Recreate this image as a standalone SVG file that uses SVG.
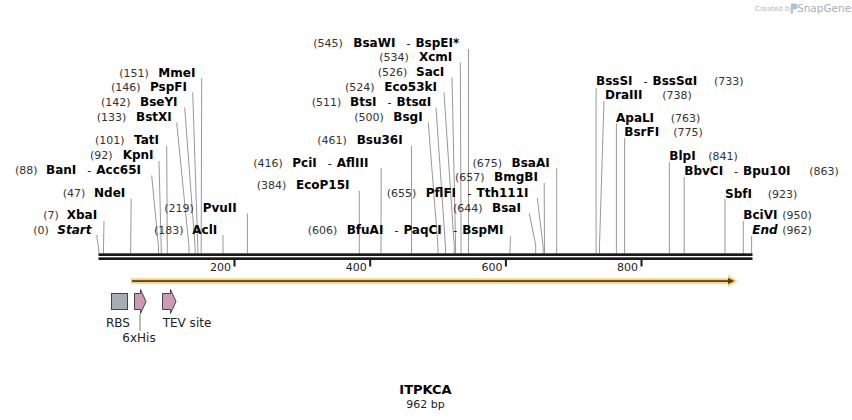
<svg xmlns="http://www.w3.org/2000/svg" width="852" height="420" viewBox="0 0 852 420">
<style>
.n{font-family:"DejaVu Sans",Verdana,sans-serif;font-size:11px;fill:#333}
.e{font-family:"DejaVu Sans",Verdana,sans-serif;font-size:12px;font-weight:bold;fill:#000}
.i{font-style:italic}
.h{font-family:"DejaVu Sans",Verdana,sans-serif;font-size:11px;fill:#000}
.c polyline{fill:none;stroke:#999;stroke-width:1}
.f{font-family:"DejaVu Sans",Verdana,sans-serif;font-size:12px;fill:#222}
.t{font-family:"DejaVu Sans",Verdana,sans-serif;font-size:11px;fill:#222;text-anchor:end}
.feat{stroke:#444;stroke-width:1}
</style>
<rect width="852" height="420" fill="#fff"/>
<g id="logo">
<text x="755" y="10.5" style="font-family:'DejaVu Sans',sans-serif;font-size:7px;fill:#b8b8b8">Created by</text>
<path d="M791 3.5h3.5a3 3 0 0 1 0 6h-1.5v4h-2z" fill="#a9c3dc"/>
<text x="797" y="12" style="font-family:'DejaVu Sans',sans-serif;font-size:10.5px;fill:#a7aeb6">SnapGene</text>
</g>
<g id="connectors" class="c">
<polyline points="201.7,78 201.2,247 201.2,253.5"/>
<polyline points="192.7,92.5 197.8,247 197.8,253.5"/>
<polyline points="184.7,107.5 195.1,247 195.1,253.5"/>
<polyline points="176.7,122.5 189,247 189,253.5"/>
<polyline points="166.7,146 167.3,247 167.3,253.5"/>
<polyline points="159,161 161.2,247 161.2,253.5"/>
<polyline points="151.7,175.5 158.5,247 158.5,253.5"/>
<polyline points="131.2,198.5 130.7,247 130.7,253.5"/>
<polyline points="247.4,213.3 247.4,253.5"/>
<polyline points="104,221 103.5,247 103.5,253.5"/>
<polyline points="96.7,235 98.8,250 98.8,253.5"/>
<polyline points="223,235 223,253.5"/>
<polyline points="468.5,49 468.5,253.5"/>
<polyline points="460.3,62.5 461.1,247 461.1,253.5"/>
<polyline points="452,77.5 455.6,247 455.6,253.5"/>
<polyline points="444,92.5 454.3,247 454.3,253.5"/>
<polyline points="436,107.5 445.5,247 445.5,253.5"/>
<polyline points="428.3,122.5 438,247 438,253.5"/>
<polyline points="411.5,146 411.5,253.5"/>
<polyline points="381.2,168 381,253.5"/>
<polyline points="359.3,191 359.3,253.5"/>
<polyline points="510.5,236.5 509.9,253.5"/>
<polyline points="537.3,198 543.2,247 543.2,253.5"/>
<polyline points="544.2,183 544.5,247 544.5,253.5"/>
<polyline points="556.7,168.3 556.7,253.5"/>
<polyline points="529.3,213.3 535.7,245 535.7,253.5"/>
<polyline points="596.1,87.7 596.1,253.5"/>
<polyline points="604,101 599.5,245 599.5,253.5"/>
<polyline points="616.4,123.3 616.4,253.5"/>
<polyline points="624.6,138 624.6,253.5"/>
<polyline points="669.3,162 669.3,253.5"/>
<polyline points="684.2,177 684.2,253.5"/>
<polyline points="725,199 725,253.5"/>
<polyline points="743.3,221 743.3,253.5"/>
<polyline points="751.6,236 751.6,253.5"/>
</g>
<g id="axis">
<rect x="98.5" y="253.3" width="654" height="2.7" fill="#1a1a1a"/>
<rect x="98.5" y="257.3" width="654" height="2.7" fill="#1a1a1a"/>
<rect x="233.5" y="260" width="2" height="6.5" fill="#1a1a1a"/>
<rect x="369.2" y="260" width="2" height="6.5" fill="#1a1a1a"/>
<rect x="504.9" y="260" width="2" height="6.5" fill="#1a1a1a"/>
<rect x="640.5" y="260" width="2" height="6.5" fill="#1a1a1a"/>
<text class="t" x="231" y="271">200</text>
<text class="t" x="366.7" y="271">400</text>
<text class="t" x="502.4" y="271">600</text>
<text class="t" x="638" y="271">800</text>
</g>
<g id="orf">
<polygon points="131,278.3 728,278.3 728,275 737.5,281 728,287 728,283.7 131,283.7" fill="#fbd07c"/>
<rect x="132" y="280.2" width="597" height="1.7" fill="#4e3c1c"/>
<polygon points="728,278 734.5,281 728,284" fill="#4e3c1c"/>
</g>
<g id="RBS">
<rect class="feat" x="111.5" y="293.5" width="16" height="16" fill="#a6adb5"/>
<text class="f" x="106" y="327">RBS</text>
</g>
<g id="his">
<polygon class="feat" points="134.5,293.5 140.5,293.5 140.5,289.5 146,301.5 140.5,313.5 140.5,309.5 134.5,309.5" fill="#cc9ab6"/>
<line x1="140" y1="314" x2="140" y2="331" stroke="#777" stroke-width="1"/>
<text class="f" x="122.3" y="342">6xHis</text>
</g>
<g id="tev">
<polygon class="feat" points="162.5,293.5 170.5,293.5 170.5,289.5 176,301.5 170.5,313.5 170.5,309.5 162.5,309.5" fill="#cc9ab6"/>
<text class="f" x="162.7" y="327">TEV site</text>
</g>
<g id="MmeI"><text class="n" x="119.3" y="76.6">(151)</text><text class="e" x="158.3" y="76.6">MmeI</text></g>
<g id="PspFI"><text class="n" x="111" y="91.3">(146)</text><text class="e" x="150" y="91.3">PspFI</text></g>
<g id="BseYI"><text class="n" x="101" y="106">(142)</text><text class="e" x="140" y="106">BseYI</text></g>
<g id="BstXI"><text class="n" x="96.7" y="121">(133)</text><text class="e" x="136" y="121">BstXI</text></g>
<g id="TatI"><text class="n" x="95" y="144.3">(101)</text><text class="e" x="134" y="144.3">TatI</text></g>
<g id="KpnI"><text class="n" x="90" y="159.3">(92)</text><text class="e" x="122.7" y="159.3">KpnI</text></g>
<g id="BanI"><text class="n" x="15" y="173.6">(88)</text><text class="e" x="46" y="173.6">BanI</text><text class="h" x="87.3" y="173.6">-</text><text class="e" x="96.3" y="173.6">Acc65I</text></g>
<g id="NdeI"><text class="n" x="62.7" y="197">(47)</text><text class="e" x="94" y="197">NdeI</text></g>
<g id="PvuII"><text class="n" x="164.3" y="211.6">(219)</text><text class="e" x="202.7" y="211.6">PvuII</text></g>
<g id="XbaI"><text class="n" x="43.3" y="219.3">(7)</text><text class="e" x="66.7" y="219.3">XbaI</text></g>
<g id="Start"><text class="n" x="33.3" y="233.6">(0)</text><text class="e i" x="57.3" y="233.6">Start</text></g>
<g id="AclI"><text class="n" x="154" y="233.6">(183)</text><text class="e" x="192.3" y="233.6">AclI</text></g>
<g id="BsaWI"><text class="n" x="313.3" y="46.6">(545)</text><text class="e" x="353.3" y="46.6">BsaWI</text><text class="h" x="406.4" y="46.6">-</text><text class="e" x="415.4" y="46.6">BspEI*</text></g>
<g id="XcmI"><text class="n" x="379.3" y="61">(534)</text><text class="e" x="419" y="61">XcmI</text></g>
<g id="SacI"><text class="n" x="377.7" y="76">(526)</text><text class="e" x="416" y="76">SacI</text></g>
<g id="Eco53kI"><text class="n" x="345" y="91">(524)</text><text class="e" x="384.3" y="91">Eco53kI</text></g>
<g id="BtsI"><text class="n" x="311.7" y="106">(511)</text><text class="e" x="350" y="106">BtsI</text><text class="h" x="387.5" y="106">-</text><text class="e" x="396.5" y="106">BtsαI</text></g>
<g id="BsgI"><text class="n" x="354.3" y="121">(500)</text><text class="e" x="393.3" y="121">BsgI</text></g>
<g id="Bsu36I"><text class="n" x="317.3" y="144.3">(461)</text><text class="e" x="356.7" y="144.3">Bsu36I</text></g>
<g id="PciI"><text class="n" x="253.3" y="166.6">(416)</text><text class="e" x="292.3" y="166.6">PciI</text><text class="h" x="327.8" y="166.6">-</text><text class="e" x="336.8" y="166.6">AflIII</text></g>
<g id="EcoP15I"><text class="n" x="256.7" y="189.3">(384)</text><text class="e" x="296" y="189.3">EcoP15I</text></g>
<g id="BfuAI"><text class="n" x="307.7" y="234.3">(606)</text><text class="e" x="346.7" y="234.3">BfuAI</text><text class="h" x="394.4" y="234.3">-</text><text class="e" x="403.4" y="234.3">PaqCI</text><text class="h" x="453.2" y="234.3">-</text><text class="e" x="462.2" y="234.3">BspMI</text></g>
<g id="PflFI"><text class="n" x="386.7" y="196.6">(655)</text><text class="e" x="425.7" y="196.6">PflFI</text><text class="h" x="467.5" y="196.6">-</text><text class="e" x="476.5" y="196.6">Tth111I</text></g>
<g id="BmgBI"><text class="n" x="455" y="181">(657)</text><text class="e" x="494" y="181">BmgBI</text></g>
<g id="BsaAI"><text class="n" x="472.5" y="166.6">(675)</text><text class="e" x="511.5" y="166.6">BsaAI</text></g>
<g id="BsaI"><text class="n" x="453" y="212">(644)</text><text class="e" x="492" y="212">BsaI</text></g>
<g id="BssSI"><text class="e" x="596" y="85.3">BssSI</text><text class="h" x="643.5" y="85.3">-</text><text class="e" x="652.5" y="85.3">BssSαI</text><text class="n" x="714" y="85.3">(733)</text></g>
<g id="DraIII"><text class="e" x="605" y="99.3">DraIII</text><text class="n" x="662.3" y="99.3">(738)</text></g>
<g id="ApaLI"><text class="e" x="616" y="121.6">ApaLI</text><text class="n" x="670.7" y="121.6">(763)</text></g>
<g id="BsrFI"><text class="e" x="624.3" y="136">BsrFI</text><text class="n" x="673.3" y="136">(775)</text></g>
<g id="BlpI"><text class="e" x="669.3" y="160.3">BlpI</text><text class="n" x="708.3" y="160.3">(841)</text></g>
<g id="BbvCI"><text class="e" x="684.3" y="175">BbvCI</text><text class="h" x="734" y="175">-</text><text class="e" x="743" y="175">Bpu10I</text><text class="n" x="809.3" y="175">(863)</text></g>
<g id="SbfI"><text class="e" x="725" y="197.6">SbfI</text><text class="n" x="767.7" y="197.6">(923)</text></g>
<g id="BciVI"><text class="e" x="743.3" y="219.3">BciVI</text><text class="n" x="782.3" y="219.3">(950)</text></g>
<g id="End"><text class="e i" x="752.3" y="234.3">End</text><text class="n" x="782.3" y="234.3">(962)</text></g>
<g id="title">
<text x="425.5" y="394" text-anchor="middle" style="font-family:'DejaVu Sans',Verdana,sans-serif;font-size:13px;font-weight:bold;fill:#000">ITPKCA</text>
<text x="425.5" y="407.5" text-anchor="middle" style="font-family:'DejaVu Sans',Verdana,sans-serif;font-size:11px;fill:#222">962 bp</text>
</g>
</svg>
